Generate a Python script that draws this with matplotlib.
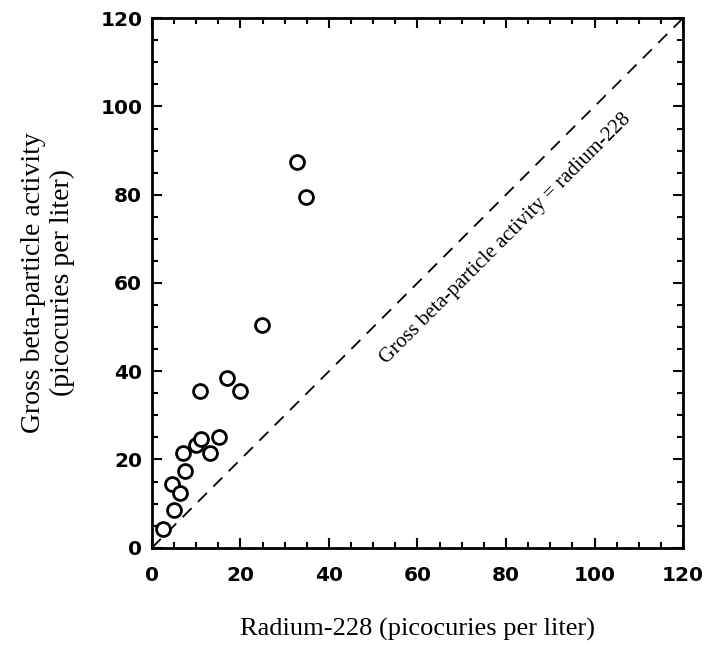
import matplotlib
matplotlib.use('Agg')
import matplotlib.pyplot as plt
from matplotlib.ticker import MultipleLocator

# Radium-228 vs gross beta-particle activity (picocuries per liter)
radium_228 = [2.5, 4.9, 4.5, 6.3, 7.5, 7.0, 9.9, 11.1, 13.1, 15.1, 10.8, 17.0, 19.9, 24.9, 32.8, 34.8]
gross_beta = [4.3, 8.5, 14.5, 12.3, 17.5, 21.5, 23.2, 24.6, 21.5, 25.2, 35.5, 38.5, 35.5, 50.5, 87.5, 79.5]
line_ends = [0, 120]

fig = plt.figure(figsize=(7.10, 6.49), dpi=100)
ax = fig.add_axes([0.214, 0.156, 0.748, 0.816])

# 1:1 reference line
ax.plot(line_ends, line_ends, color='black', linestyle=(0, (7, 5)), linewidth=1.3)
ax.plot(radium_228, gross_beta, linestyle='none', marker='o', markersize=10,
        markerfacecolor='white', markeredgecolor='black', markeredgewidth=2)

ax.text(80, 70, 'Gross beta-particle activity = radium-228', rotation=45,
        rotation_mode='anchor', ha='center', va='center',
        family='Liberation Serif', fontsize=15)

ax.set_xlim(0, 120)
ax.set_ylim(0, 120)
ax.xaxis.set_major_locator(MultipleLocator(20))
ax.yaxis.set_major_locator(MultipleLocator(20))
ax.xaxis.set_minor_locator(MultipleLocator(5))
ax.yaxis.set_minor_locator(MultipleLocator(5))
ax.tick_params(which='both', direction='in', top=True, right=True, width=1.5)
ax.tick_params(which='major', length=7)
ax.tick_params(which='minor', length=4)
ax.tick_params(axis='x', which='major', pad=13)
ax.tick_params(axis='y', which='major', pad=7)
for lab in ax.get_xticklabels() + ax.get_yticklabels():
    lab.set_family('DejaVu Sans')
    lab.set_fontweight('bold')
    lab.set_fontsize(14.5)
for sp in ax.spines.values():
    sp.set_linewidth(2)

ax.set_xlabel('Radium-228 (picocuries per liter)', family='Liberation Serif',
              fontsize=19, labelpad=24)
ax.set_ylabel('Gross beta-particle activity\n(picocuries per liter)',
              family='Liberation Serif', fontsize=20, labelpad=18)

fig.savefig('out.png', dpi=100)
